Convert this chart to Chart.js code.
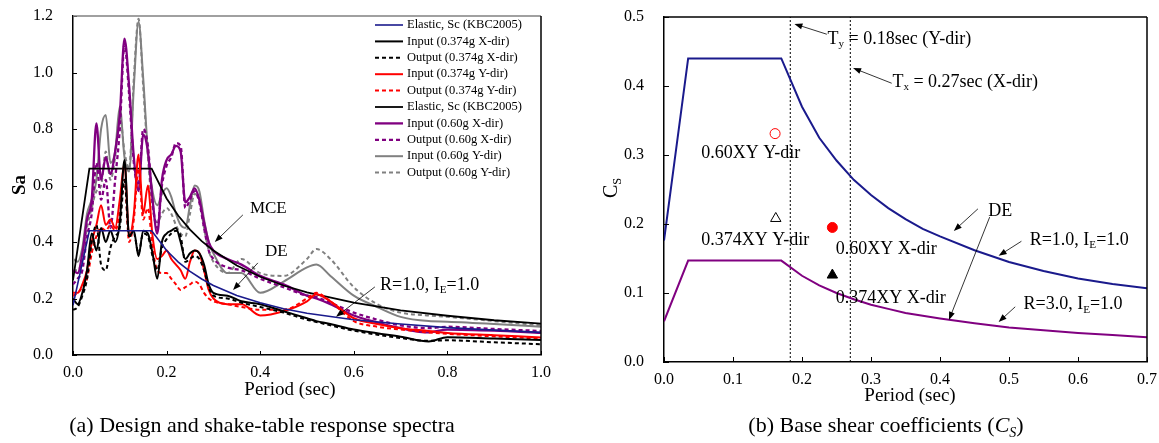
<!DOCTYPE html>
<html>
<head>
<meta charset="utf-8">
<script src="https://cdn.jsdelivr.net/npm/chart.js@4.4.1/dist/chart.umd.min.js"></script>
<style>
  body { margin: 0; background: #fff; width: 1159px; height: 443px; overflow: hidden; position: relative;
         font-family: "Liberation Serif", "Times New Roman", serif; }
  #left { position: absolute; left: 0; top: 0; }
  #right { position: absolute; left: 560px; top: 0; }
  .cap { position: absolute; top: 412px; font-size: 22px; line-height: 26px; white-space: nowrap; transform: translateX(-50%); }
  .cap sub { font-size: 14px; line-height: 0; }
</style>
</head>
<body>
<canvas id="left" width="560" height="443"></canvas>
<canvas id="right" width="599" height="443"></canvas>
<div class="cap" style="left:262px">(a) Design and shake-table response spectra</div>
<div class="cap" style="left:886px">(b) Base shear coefficients (<i>C<sub>S</sub></i>)</div>

<script>
// ---- (a) 응답스펙트럼 데이터 ----
const periods = [0, 0.01, 0.02, 0.03, 0.04, 0.05, 0.06, 0.07, 0.08, 0.09,
                 0.10, 0.11, 0.12, 0.13, 0.14, 0.15, 0.16, 0.17, 0.18, 0.19,
                 0.20, 0.21, 0.22, 0.23, 0.24, 0.25, 0.26, 0.27, 0.28, 0.29,
                 0.30, 0.33, 0.36, 0.40, 0.45, 0.50, 0.52, 0.55, 0.60, 0.65,
                 0.70, 0.76, 0.80, 0.90, 1.00];

const inputX374 = [0.20, 0.18, 0.22, 0.30, 0.43, 0.37, 0.45, 0.40, 0.44, 0.40,
                   0.47, 0.69, 0.42, 0.44, 0.35, 0.44, 0.43, 0.36, 0.27, 0.40,
                   0.43, 0.44, 0.45, 0.40, 0.34, 0.36, 0.37, 0.36, 0.32, 0.25,
                   0.22, 0.21, 0.19, 0.18, 0.155, 0.13, 0.12, 0.11, 0.09, 0.077,
                   0.065, 0.048, 0.063, 0.058, 0.053];
const outputX374 = [0.16, 0.17, 0.21, 0.27, 0.40, 0.46, 0.32, 0.30, 0.38, 0.42,
                    0.45, 0.62, 0.42, 0.43, 0.36, 0.43, 0.42, 0.35, 0.30, 0.38,
                    0.41, 0.43, 0.44, 0.42, 0.33, 0.34, 0.35, 0.34, 0.30, 0.24,
                    0.21, 0.20, 0.185, 0.17, 0.15, 0.125, 0.117, 0.105, 0.086, 0.072,
                    0.06, 0.05, 0.052, 0.045, 0.038];
const inputY374 = [0.22, 0.22, 0.25, 0.30, 0.40, 0.46, 0.53, 0.46, 0.48, 0.45,
                   0.55, 0.68, 0.42, 0.50, 0.71, 0.50, 0.60, 0.42, 0.34, 0.35,
                   0.37, 0.34, 0.32, 0.30, 0.27, 0.33, 0.37, 0.36, 0.30, 0.23,
                   0.20, 0.18, 0.18, 0.14, 0.155, 0.19, 0.215, 0.19, 0.13, 0.11,
                   0.095, 0.085, 0.078, 0.07, 0.062];
const outputY374 = [0.21, 0.22, 0.24, 0.27, 0.36, 0.42, 0.45, 0.44, 0.46, 0.44,
                    0.50, 0.62, 0.40, 0.48, 0.66, 0.48, 0.52, 0.38, 0.30, 0.29,
                    0.29, 0.27, 0.25, 0.23, 0.24, 0.25, 0.26, 0.25, 0.22, 0.20,
                    0.19, 0.18, 0.17, 0.16, 0.16, 0.20, 0.22, 0.19, 0.12, 0.10,
                    0.09, 0.08, 0.075, 0.066, 0.058];
const inputX060 = [0.30, 0.29, 0.36, 0.48, 0.55, 0.82, 0.62, 0.70, 0.64, 0.72,
                   0.85, 1.12, 0.95, 0.70, 0.58, 0.78, 0.72, 0.55, 0.43, 0.62,
                   0.69, 0.71, 0.74, 0.72, 0.54, 0.56, 0.59, 0.55, 0.47, 0.40,
                   0.37, 0.34, 0.32, 0.28, 0.25, 0.21, 0.20, 0.18, 0.14, 0.115,
                   0.095, 0.08, 0.09, 0.086, 0.078];
const outputX060 = [0.25, 0.27, 0.30, 0.42, 0.50, 0.68, 0.55, 0.62, 0.45, 0.62,
                    0.80, 1.10, 0.92, 0.68, 0.60, 0.80, 0.74, 0.54, 0.45, 0.60,
                    0.67, 0.70, 0.75, 0.74, 0.52, 0.55, 0.58, 0.54, 0.45, 0.37,
                    0.34, 0.31, 0.30, 0.27, 0.24, 0.21, 0.205, 0.185, 0.15, 0.125,
                    0.105, 0.095, 0.10, 0.092, 0.085];
const inputY060 = [0.34, 0.33, 0.38, 0.50, 0.55, 0.62, 0.80, 0.85, 0.68, 0.72,
                   0.88, 0.70, 0.65, 0.95, 1.18, 0.98, 0.72, 0.58, 0.53, 0.57,
                   0.59, 0.56, 0.50, 0.46, 0.45, 0.53, 0.60, 0.58, 0.48, 0.40,
                   0.36, 0.29, 0.29, 0.22, 0.26, 0.31, 0.32, 0.28, 0.21, 0.17,
                   0.135, 0.12, 0.118, 0.11, 0.10];
const outputY060 = [0.30, 0.30, 0.34, 0.45, 0.52, 0.58, 0.60, 0.72, 0.62, 0.70,
                    0.85, 0.72, 0.66, 0.98, 1.19, 0.95, 0.70, 0.52, 0.47, 0.50,
                    0.52, 0.50, 0.46, 0.43, 0.42, 0.50, 0.57, 0.55, 0.45, 0.37,
                    0.33, 0.29, 0.34, 0.29, 0.28, 0.34, 0.375, 0.34, 0.24, 0.18,
                    0.15, 0.14, 0.135, 0.12, 0.105];

// 설계스펙트럼 (KBC2005)
const designPeriods = [0, 0.035, 0.168, 0.2, 0.225, 0.25, 0.275, 0.3, 0.35, 0.4,
                       0.45, 0.5, 0.6, 0.7, 0.8, 0.9, 1.0];
const mceSa = [0.265, 0.66, 0.66, 0.554, 0.493, 0.444, 0.403, 0.37, 0.317, 0.277,
               0.246, 0.222, 0.185, 0.158, 0.139, 0.123, 0.111];
const deSa = [0.176, 0.44, 0.44, 0.37, 0.329, 0.296, 0.269, 0.246, 0.211, 0.185,
              0.164, 0.148, 0.125, 0.11, 0.097, 0.088, 0.08];

const saTicks = [0, 0.2, 0.4, 0.6, 0.8, 1.0, 1.2];
const periodTicksA = [0, 0.2, 0.4, 0.6, 0.8, 1.0];

// ---- (b) 밑면전단력계수 데이터 ----
const csPeriods = [0, 0.035, 0.17, 0.2, 0.225, 0.25, 0.275, 0.3, 0.325, 0.35,
                   0.375, 0.4, 0.45, 0.5, 0.55, 0.6, 0.65, 0.7];
const csR1 = [0.176, 0.44, 0.44, 0.37, 0.325, 0.292, 0.264, 0.242, 0.223, 0.207,
              0.193, 0.182, 0.162, 0.145, 0.132, 0.121, 0.113, 0.107];
const csR3 = [0.059, 0.147, 0.147, 0.125, 0.111, 0.1, 0.091, 0.083, 0.077, 0.071,
              0.067, 0.063, 0.056, 0.05, 0.046, 0.042, 0.039, 0.036];
const fundamentalPeriods = [0.183, 0.27];   // Ty, Tx
const testNames = ['0.60XY Y-dir', '0.374XY Y-dir', '0.60XY X-dir', '0.374XY X-dir'];
const testPeriods = [0.161, 0.162, 0.244, 0.244];
const testCs = [0.331, 0.208, 0.195, 0.126];

// ---- 공통 ----
const FONT = '"Liberation Serif", "Times New Roman", serif';
Chart.defaults.font.family = FONT;
Chart.defaults.color = '#000';
Chart.defaults.animation = false;

const pts = (xs, ys) => xs.map((x, i) => ({ x: x, y: ys[i] }));
const fmt1 = v => Number(v).toFixed(1);

// 아래첨자 포함 텍스트
function drawRich(ctx, parts, x, y, size) {
    let cx = x;
    parts.forEach(([s, kind]) => {
        const sub = kind === 'sub';
        ctx.font = (sub ? size * 0.62 : size) + 'px ' + FONT;
        ctx.fillText(s, cx, sub ? y + size * 0.3 : y);
        cx += ctx.measureText(s).width;
    });
    return cx - x;
}

function richWidth(ctx, parts, size) {
    let w = 0;
    parts.forEach(([s, kind]) => {
        ctx.font = (kind === 'sub' ? size * 0.62 : size) + 'px ' + FONT;
        w += ctx.measureText(s).width;
    });
    return w;
}

function drawArrow(ctx, x1, y1, x2, y2) {
    const a = Math.atan2(y2 - y1, x2 - x1);
    const c = Math.cos(a), s = Math.sin(a);
    ctx.beginPath();
    ctx.moveTo(x1, y1);
    ctx.lineTo(x2 - 5 * c, y2 - 5 * s);
    ctx.stroke();
    ctx.beginPath();
    ctx.moveTo(x2, y2);
    ctx.lineTo(x2 - 8 * c + 3 * s, y2 - 8 * s - 3 * c);
    ctx.lineTo(x2 - 8 * c - 3 * s, y2 - 8 * s + 3 * c);
    ctx.closePath();
    ctx.fill();
}

// 테두리 + 안쪽 눈금
const frameTicks = {
    id: 'frameTicks',
    afterDatasetsDraw(chart, args, o) {
        const { ctx, chartArea: a, scales } = chart;
        ctx.save();
        ctx.strokeStyle = '#000';
        ctx.lineWidth = 1;
        ctx.beginPath();
        scales.x.ticks.forEach(t => {
            const px = Math.round(scales.x.getPixelForValue(t.value)) + 0.5;
            ctx.moveTo(px, a.bottom);
            ctx.lineTo(px, a.bottom - o.len);
        });
        scales.y.ticks.forEach(t => {
            const py = Math.round(scales.y.getPixelForValue(t.value)) + 0.5;
            ctx.moveTo(a.left, py);
            ctx.lineTo(a.left + o.len, py);
        });
        ctx.stroke();
        ctx.lineWidth = 1.5;
        ctx.strokeStyle = o.topColor;
        ctx.beginPath();
        ctx.moveTo(a.left, a.top);
        ctx.lineTo(a.right, a.top);
        ctx.stroke();
        ctx.strokeStyle = '#000';
        ctx.beginPath();
        ctx.moveTo(a.right, a.top);
        ctx.lineTo(a.right, a.bottom);
        ctx.stroke();
        ctx.restore();
    }
};

// 주석(텍스트, 화살표) - 데이터 좌표
const notes = {
    id: 'notes',
    afterDatasetsDraw(chart, args, o) {
        const { ctx, scales } = chart;
        const X = v => scales.x.getPixelForValue(v);
        const Y = v => scales.y.getPixelForValue(v);
        ctx.save();
        ctx.fillStyle = '#000';
        ctx.strokeStyle = '#000';
        ctx.lineWidth = 0.8;
        ctx.textAlign = 'left';
        ctx.textBaseline = 'middle';
        o.items.forEach(it => {
            if (it.arrow) {
                const [x1, y1, x2, y2] = it.arrow;
                drawArrow(ctx, X(x1), Y(y1), X(x2), Y(y2));
            } else {
                drawRich(ctx, it.text, X(it.x), Y(it.y), it.size || o.size);
            }
        });
        ctx.restore();
    }
};

// 축 제목
const axisTitles = {
    id: 'axisTitles',
    afterDraw(chart, args, o) {
        const ctx = chart.ctx;
        ctx.save();
        ctx.fillStyle = '#000';
        ctx.textAlign = 'left';
        ctx.textBaseline = 'middle';
        o.items.forEach(it => {
            ctx.save();
            ctx.translate(it.x, it.y);
            if (it.rotate) ctx.rotate(-Math.PI / 2);
            if (it.bold) {
                ctx.font = 'bold ' + it.size + 'px ' + FONT;
                const w = ctx.measureText(it.parts[0][0]).width;
                ctx.fillText(it.parts[0][0], -w / 2, 0);
            } else {
                const w = richWidth(ctx, it.parts, it.size);
                drawRich(ctx, it.parts, -w / 2, 0, it.size);
            }
            ctx.restore();
        });
        ctx.restore();
    }
};

// 차트 안쪽 범례
const insideLegend = {
    id: 'insideLegend',
    afterDraw(chart, args, o) {
        const ctx = chart.ctx;
        ctx.save();
        ctx.font = o.size + 'px ' + FONT;
        ctx.textAlign = 'left';
        ctx.textBaseline = 'middle';
        ctx.fillStyle = '#000';
        chart.data.datasets.forEach((ds, i) => {
            const y = o.y + i * o.gap;
            ctx.strokeStyle = ds.borderColor;
            ctx.lineWidth = ds.borderWidth;
            ctx.setLineDash(ds.borderDash || []);
            ctx.beginPath();
            ctx.moveTo(o.x, y);
            ctx.lineTo(o.x + o.len, y);
            ctx.stroke();
            ctx.setLineDash([]);
            ctx.fillText(ds.label, o.x + o.len + 4, y);
        });
        ctx.restore();
    }
};

function lineSet(label, ys, color, dashed, width, xs) {
    return {
        label: label,
        data: pts(xs || periods, ys),
        borderColor: color,
        borderWidth: width || 2,
        borderDash: dashed ? [4, 3] : [],
        pointRadius: 0,
        fill: false,
        cubicInterpolationMode: xs ? 'default' : 'monotone',
        tension: 0
    };
}

// 축: 눈금 글자 여백이 차트 영역 위치를 바꾸지 않도록 afterFit에서 고정
function scaleOpts(min, max, step, fit) {
    return {
        x: {
            type: 'linear', min: min[0], max: max[0],
            grid: { display: false, drawTicks: false },
            border: { display: true, color: '#000', width: 1.5 },
            ticks: { stepSize: step[0], autoSkip: false, padding: 8, font: { size: 16 }, callback: fmt1 },
            afterFit: s => { s.height = fit[0]; s.paddingLeft = 0; s.paddingRight = 0; }
        },
        y: {
            type: 'linear', min: min[1], max: max[1],
            grid: { display: false, drawTicks: false },
            border: { display: true, color: '#000', width: 1.5 },
            ticks: { stepSize: step[1], autoSkip: false, padding: 20, font: { size: 16 }, callback: fmt1 },
            afterFit: s => { s.width = fit[1]; s.paddingTop = 0; s.paddingBottom = 0; }
        }
    };
}

// ---- (a) ----
new Chart(document.getElementById('left'), {
    type: 'line',
    data: {
        datasets: [
            lineSet('Elastic, Sc (KBC2005)', deSa, '#1a1a8c', false, 1.6, designPeriods),
            lineSet('Input (0.374g X-dir)', inputX374, '#000000', false),
            lineSet('Output (0.374g X-dir)', outputX374, '#000000', true),
            lineSet('Input (0.374g Y-dir)', inputY374, '#ff0000', false),
            lineSet('Output (0.374g Y-dir)', outputY374, '#ff0000', true),
            lineSet('Elastic, Sc (KBC2005)', mceSa, '#000000', false, 1.8, designPeriods),
            lineSet('Input (0.60g X-dir)', inputX060, '#800080', false, 2.3),
            lineSet('Output (0.60g X-dir)', outputX060, '#800080', true, 2.3),
            lineSet('Input (0.60g Y-dir)', inputY060, '#808080', false),
            lineSet('Output (0.60g Y-dir)', outputY060, '#808080', true)
        ]
    },
    options: {
        responsive: false,
        devicePixelRatio: 1,
        layout: { padding: { left: 0, right: 19, top: 16, bottom: 0 } },
        scales: scaleOpts([periodTicksA[0], saTicks[0]],
                          [periodTicksA[periodTicksA.length - 1], saTicks[saTicks.length - 1]],
                          [0.2, 0.2], [88, 73]),
        plugins: {
            legend: { display: false },
            tooltip: { enabled: false },
            frameTicks: { len: 4, topColor: '#808080' },
            insideLegend: { x: 375, y: 25, gap: 16.4, len: 28, size: 12.5 },
            notes: {
                size: 17,
                items: [
                    { text: [['MCE']], x: 0.378, y: 0.517 },
                    { arrow: [0.363, 0.496, 0.303, 0.40] },
                    { text: [['DE']], x: 0.41, y: 0.365 },
                    { arrow: [0.395, 0.326, 0.342, 0.23] },
                    { text: [['R=1.0, I'], ['E', 'sub'], ['=1.0']], x: 0.656, y: 0.248, size: 18 },
                    { arrow: [0.645, 0.241, 0.562, 0.135] }
                ]
            },
            axisTitles: {
                items: [
                    { parts: [['Sa']], x: 20, y: 185, size: 19, rotate: true, bold: true },
                    { parts: [['Period (sec)']], x: 290, y: 390, size: 19 }
                ]
            }
        }
    },
    plugins: [frameTicks, notes, insideLegend, axisTitles]
});

// ---- (b) ----
const markerStyles = [
    { pointStyle: 'circle', pointRadius: 5, borderColor: '#ff0000', backgroundColor: '#ffffff' },
    { pointStyle: 'triangle', pointRadius: 6, borderColor: '#000000', backgroundColor: '#ffffff' },
    { pointStyle: 'circle', pointRadius: 5, borderColor: '#ff0000', backgroundColor: '#ff0000' },
    { pointStyle: 'triangle', pointRadius: 6, borderColor: '#000000', backgroundColor: '#000000' }
];

const rightSets = [
    lineSet('R=1.0, IE=1.0', csR1, '#1a1a8c', false, 2, csPeriods),
    lineSet('R=3.0, IE=1.0', csR3, '#800080', false, 2, csPeriods)
];
fundamentalPeriods.forEach(t => {
    rightSets.push({
        label: 'T', data: [{ x: t, y: 0 }, { x: t, y: 0.5 }],
        borderColor: '#000', borderWidth: 1, borderDash: [2, 2], pointRadius: 0, tension: 0
    });
});
testNames.forEach((name, i) => {
    rightSets.push(Object.assign({
        label: name, data: [{ x: testPeriods[i], y: testCs[i] }],
        showLine: false, borderWidth: 1
    }, markerStyles[i]));
});

new Chart(document.getElementById('right'), {
    type: 'line',
    data: { datasets: rightSets },
    options: {
        responsive: false,
        devicePixelRatio: 1,
        layout: { padding: { left: 0, right: 12, top: 17, bottom: 0 } },
        scales: scaleOpts([0, 0], [0.7, 0.5], [0.1, 0.1], [81, 104]),
        plugins: {
            legend: { display: false },
            tooltip: { enabled: false },
            frameTicks: { len: 5, topColor: '#000000' },
            notes: {
                size: 18,
                items: [
                    { text: [['0.60XY Y-dir']], x: 0.054, y: 0.303 },
                    { text: [['0.374XY Y-dir']], x: 0.054, y: 0.177 },
                    { text: [['0.60XY X-dir']], x: 0.249, y: 0.164 },
                    { text: [['0.374XY X-dir']], x: 0.249, y: 0.093 },
                    { text: [['T'], ['y', 'sub'], [' = 0.18sec (Y-dir)']], x: 0.237, y: 0.468 },
                    { arrow: [0.236, 0.475, 0.189, 0.490] },
                    { text: [['T'], ['x', 'sub'], [' = 0.27sec (X-dir)']], x: 0.331, y: 0.406 },
                    { arrow: [0.330, 0.404, 0.274, 0.426] },
                    { text: [['DE']], x: 0.47, y: 0.218 },
                    { arrow: [0.455, 0.222, 0.42, 0.19] },
                    { arrow: [0.472, 0.21, 0.413, 0.061] },
                    { text: [['R=1.0, I'], ['E', 'sub'], ['=1.0']], x: 0.53, y: 0.177 },
                    { arrow: [0.518, 0.175, 0.485, 0.154] },
                    { text: [['R=3.0, I'], ['E', 'sub'], ['=1.0']], x: 0.521, y: 0.083 },
                    { arrow: [0.509, 0.080, 0.485, 0.058] }
                ]
            },
            axisTitles: {
                items: [
                    { parts: [['C'], ['S', 'sub']], x: 52, y: 188, size: 20, rotate: true },
                    { parts: [['Period (sec)']], x: 350, y: 396, size: 19 }
                ]
            }
        }
    },
    plugins: [frameTicks, notes, axisTitles]
});
</script>
</body>
</html>
